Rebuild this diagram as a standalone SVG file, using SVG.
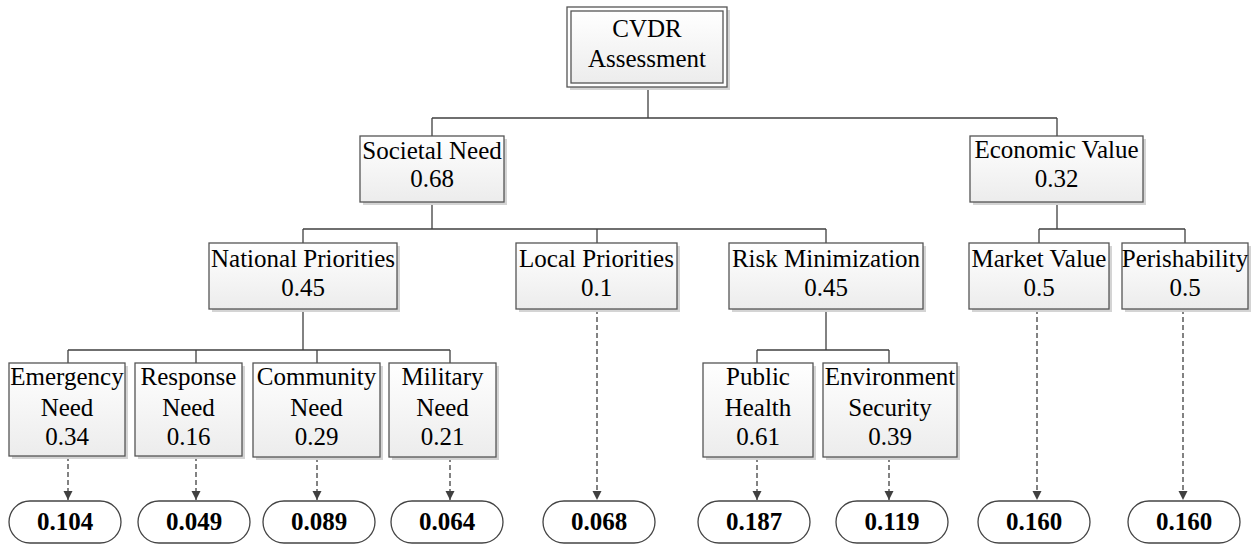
<svg xmlns="http://www.w3.org/2000/svg" width="1256" height="546" viewBox="0 0 1256 546">
<style>
  .box{fill:url(#g);stroke:#555;stroke-width:1.3}
  .sh{fill:#d4d4d4}
  .t{font-family:"Liberation Serif","Times New Roman",serif;font-size:25px;fill:#000;text-anchor:middle}
  .b{font-weight:bold}
  .ov{fill:#fff;stroke:#444;stroke-width:1.3}
  .ln{fill:none;stroke:#404040;stroke-width:1.3}
  .da{fill:none;stroke:#404040;stroke-width:1.3;stroke-dasharray:5,3;marker-end:url(#ah)}
</style>
<defs>
  <linearGradient id="g" x1="0" y1="0" x2="0" y2="1">
    <stop offset="0" stop-color="#ffffff"/>
    <stop offset="1" stop-color="#ececec"/>
  </linearGradient>
  <marker id="ah" markerUnits="userSpaceOnUse" markerWidth="10" markerHeight="10" refX="9" refY="4.5" orient="auto">
    <path d="M0,0 L9,4.5 L0,9 z" fill="#404040"/>
  </marker>
</defs>
<rect width="1256" height="546" fill="#fff"/>

<g id="connectors">
  <path class="ln" d="M648,87 V118 M432,118 H1057 M432,118 V136 M1057,118 V136"/>
  <path class="ln" d="M432,202 V229 M303,229 H826 M303,229 V243 M597,229 V243 M826,229 V243"/>
  <path class="ln" d="M1057,202 V229 M1039,229 H1185 M1039,229 V243 M1185,229 V243"/>
  <path class="ln" d="M303,309 V350 M68,350 H450 M68,350 V363 M196,350 V363 M317,350 V363 M450,350 V363"/>
  <path class="ln" d="M826,309 V350 M757,350 H889 M757,350 V363 M889,350 V363"/>
  <path class="da" d="M68,456 V500"/>
  <path class="da" d="M196,456 V500"/>
  <path class="da" d="M317,457 V500"/>
  <path class="da" d="M450,457 V500"/>
  <path class="da" d="M597,309 V500"/>
  <path class="da" d="M757,457 V500"/>
  <path class="da" d="M889,457 V500"/>
  <path class="da" d="M1037,309 V500"/>
  <path class="da" d="M1183,309 V500"/>
</g>

<g id="n-cvdr">
  <rect class="sh" x="570" y="10" width="160" height="80"/>
  <rect x="567" y="7" width="160" height="80" fill="#fff" stroke="#555" stroke-width="1.3"/>
  <rect class="box" x="571" y="11" width="152" height="72"/>
  <text class="t" x="647" y="37">CVDR</text>
  <text class="t" x="647" y="66.5">Assessment</text>
</g>

<g id="n-societal">
  <rect class="sh" x="363" y="139" width="144" height="66"/>
  <rect class="box" x="360" y="136" width="144" height="66"/>
  <text class="t" x="432" y="159">Societal Need</text>
  <text class="t" x="432" y="187">0.68</text>
</g>
<g id="n-economic">
  <rect class="sh" x="973" y="139" width="173" height="66"/>
  <rect class="box" x="970" y="136" width="173" height="66"/>
  <text class="t" x="1056.5" y="158">Economic Value</text>
  <text class="t" x="1056.5" y="187">0.32</text>
</g>

<g id="n-national">
  <rect class="sh" x="212" y="246" width="188" height="66"/>
  <rect class="box" x="209" y="243" width="188" height="66"/>
  <text class="t" x="303" y="267">National Priorities</text>
  <text class="t" x="303" y="296">0.45</text>
</g>
<g id="n-local">
  <rect class="sh" x="519" y="246" width="161" height="66"/>
  <rect class="box" x="516" y="243" width="161" height="66"/>
  <text class="t" x="596.5" y="267">Local Priorities</text>
  <text class="t" x="596.5" y="296">0.1</text>
</g>
<g id="n-risk">
  <rect class="sh" x="732" y="246" width="194" height="66"/>
  <rect class="box" x="729" y="243" width="194" height="66"/>
  <text class="t" x="826" y="267">Risk Minimization</text>
  <text class="t" x="826" y="296">0.45</text>
</g>
<g id="n-market">
  <rect class="sh" x="972" y="246" width="140" height="66"/>
  <rect class="box" x="969" y="243" width="140" height="66"/>
  <text class="t" x="1039" y="267">Market Value</text>
  <text class="t" x="1039" y="296">0.5</text>
</g>
<g id="n-perish">
  <rect class="sh" x="1125" y="246" width="126" height="66"/>
  <rect class="box" x="1122" y="243" width="126" height="66"/>
  <text class="t" x="1185" y="267">Perishability</text>
  <text class="t" x="1185" y="296">0.5</text>
</g>

<g id="n-emergency">
  <rect class="sh" x="12" y="366" width="116" height="93"/>
  <rect class="box" x="9" y="363" width="116" height="93"/>
  <text class="t" x="67" y="385">Emergency</text>
  <text class="t" x="67" y="415.5">Need</text>
  <text class="t" x="67" y="445">0.34</text>
</g>
<g id="n-response">
  <rect class="sh" x="138" y="366" width="107" height="93"/>
  <rect class="box" x="135" y="363" width="107" height="93"/>
  <text class="t" x="188.5" y="385">Response</text>
  <text class="t" x="188.5" y="415.5">Need</text>
  <text class="t" x="188.5" y="445">0.16</text>
</g>
<g id="n-community">
  <rect class="sh" x="256" y="366" width="127" height="94"/>
  <rect class="box" x="253" y="363" width="127" height="94"/>
  <text class="t" x="316.5" y="385">Community</text>
  <text class="t" x="316.5" y="415.5">Need</text>
  <text class="t" x="316.5" y="445">0.29</text>
</g>
<g id="n-military">
  <rect class="sh" x="392" y="366" width="107" height="94"/>
  <rect class="box" x="389" y="363" width="107" height="94"/>
  <text class="t" x="442.5" y="385">Military</text>
  <text class="t" x="442.5" y="415.5">Need</text>
  <text class="t" x="442.5" y="445">0.21</text>
</g>
<g id="n-public">
  <rect class="sh" x="706" y="366" width="110" height="94"/>
  <rect class="box" x="703" y="363" width="110" height="94"/>
  <text class="t" x="758" y="385">Public</text>
  <text class="t" x="758" y="415.5">Health</text>
  <text class="t" x="758" y="445">0.61</text>
</g>
<g id="n-environment">
  <rect class="sh" x="826" y="366" width="134" height="94"/>
  <rect class="box" x="823" y="363" width="134" height="94"/>
  <text class="t" x="890" y="385">Environment</text>
  <text class="t" x="890" y="415.5">Security</text>
  <text class="t" x="890" y="445">0.39</text>
</g>

<g id="r-emergency"><rect class="ov" x="9" y="501" width="112" height="42" rx="21"/><text class="t b" x="65" y="530">0.104</text></g>
<g id="r-response"><rect class="ov" x="138" y="501" width="112" height="42" rx="21"/><text class="t b" x="194" y="530">0.049</text></g>
<g id="r-community"><rect class="ov" x="263" y="501" width="112" height="42" rx="21"/><text class="t b" x="319" y="530">0.089</text></g>
<g id="r-military"><rect class="ov" x="391" y="501" width="112" height="42" rx="21"/><text class="t b" x="447" y="530">0.064</text></g>
<g id="r-local"><rect class="ov" x="543" y="501" width="112" height="42" rx="21"/><text class="t b" x="599" y="530">0.068</text></g>
<g id="r-public"><rect class="ov" x="698" y="501" width="112" height="42" rx="21"/><text class="t b" x="754" y="530">0.187</text></g>
<g id="r-environment"><rect class="ov" x="836" y="501" width="112" height="42" rx="21"/><text class="t b" x="892" y="530">0.119</text></g>
<g id="r-market"><rect class="ov" x="978" y="501" width="112" height="42" rx="21"/><text class="t b" x="1034" y="530">0.160</text></g>
<g id="r-perish"><rect class="ov" x="1128" y="501" width="112" height="42" rx="21"/><text class="t b" x="1184" y="530">0.160</text></g>
</svg>
